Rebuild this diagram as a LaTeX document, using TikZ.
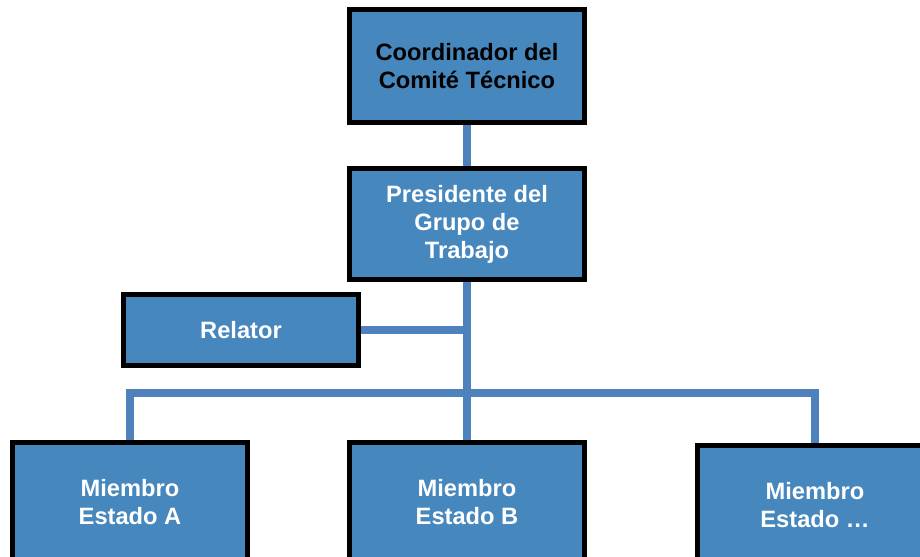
\documentclass[tikz,border=0pt]{standalone}
\usepackage{fontspec}
\setmainfont{Liberation Sans}
\usepackage{tikz}
\usetikzlibrary{backgrounds}

\definecolor{boxblue}{HTML}{4687BD}
\definecolor{linkblue}{HTML}{4F81BD}

\begin{document}
\begin{tikzpicture}[x=0.03cm,y=-0.03cm,
    box/.style={draw=black, line width=4.3pt, fill=boxblue, minimum width=7.03cm, minimum height=3.4cm, align=center, text=white, font=\bfseries\fontsize{20.2}{24}\selectfont},
    member/.style={box, minimum height=3.55cm},
    link/.style={draw=linkblue, line width=6pt}]
    \useasboundingbox (0,0) rectangle (920,556);

    \node[box, text=black] (coord) at (467,66) {Coordinador del\\Comité Técnico};
    \node[box, minimum height=3.33cm] (pres) at (467,224) {Presidente del\\Grupo de\\Trabajo};
    \node[box, minimum height=2.13cm] (rel) at (241,330) {Relator};

    \node[member] (a) at (130,502) {Miembro\\Estado A};
    \node[member] (b) at (467,502) {Miembro\\Estado B};
    \node[member] (c) at (815,505) {Miembro\\Estado …};

    \coordinate (bus) at (467,393);

    \begin{scope}[on background layer]
        \draw[link] (coord) -- (pres);
        \draw[link] (pres) -- (b);
        \draw[link] (rel.east) -- (rel.east -| pres.south);
        \draw[link] (a.north) |- (bus) -| (c.north);
    \end{scope}
\end{tikzpicture}
\end{document}
